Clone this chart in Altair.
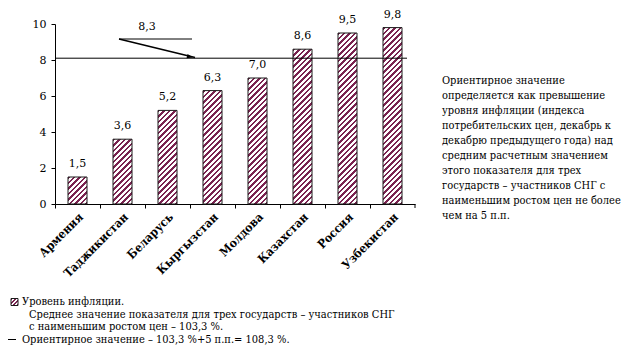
import altair as alt
import pandas as pd

countries = ["Армения", "Таджикистан", "Беларусь", "Кыргызстан", "Молдова", "Казахстан", "Россия", "Узбекистан"]
inflation = [1.5, 3.6, 5.2, 6.3, 7.0, 8.6, 9.5, 9.8]
labels = ["1,5", "3,6", "5,2", "6,3", "7,0", "8,6", "9,5", "9,8"]
threshold_line = [8.1]
threshold_label = "8,3"
y_ticks = [0, 2, 4, 6, 8, 10]

note_lines = [
    "Ориентирное значение",
    "определяется как превышение",
    "уровня инфляции (индекса",
    "потребительских цен, декабрь к",
    "декабрю предыдущего года) над",
    "средним расчетным значением",
    "этого показателя для трех",
    "государств – участников СНГ с",
    "наименьшим ростом цен не более",
    "чем на 5 п.п.",
]
legend_1 = "Уровень инфляции."
legend_2 = "Среднее значение показателя для трех государств – участников СНГ"
legend_3 = "с наименьшим ростом цен – 103,3 %."
legend_4 = "Ориентирное значение – 103,3 %+5 п.п.= 108,3 %."

W, H = 360, 180
BAR_W = 19
YMAX = 10
DARK = "#7a2350"
LIGHT = "#ffffff"
FONT = "DejaVu Serif Condensed, DejaVu Serif"
FONT_AX = "DejaVu Serif"


def stripes(w, h, period=5.5, dark_frac=0.45):
    L = w + h
    k = L / (w * w + h * h)
    stops = []
    i = 0
    while i * period / L < 1:
        t0 = min(i * period / L, 1)
        t1 = min((i * period + dark_frac * period) / L, 1)
        t2 = min((i + 1) * period / L, 1)
        stops += [
            {"offset": t0, "color": DARK},
            {"offset": t1, "color": DARK},
            {"offset": t1, "color": LIGHT},
            {"offset": t2, "color": LIGHT},
        ]
        i += 1
    return {"gradient": "linear", "x1": 0, "y1": 0, "x2": w * k, "y2": h * k, "stops": stops}


df = pd.DataFrame({"country": countries, "value": inflation, "label": labels})

y_scale = alt.Scale(domain=[0, YMAX], nice=False)
y_axis = alt.Axis(
    values=y_ticks,
    labelFont=FONT_AX,
    labelFontSize=11,
    labelColor="black",
    labelPadding=5,
    labelOverlap=False,
    labelFlush=False,
    tickSize=4,
    tickColor="black",
    domainColor="black",
    grid=False,
)
x_enc = alt.X(
    "country:N",
    sort=countries,
    title=None,
    scale=alt.Scale(paddingInner=0, paddingOuter=0),
    axis=alt.Axis(
        bandPosition=0,
        labelAngle=-45,
        labelAlign="right",
        labelBaseline="top",
        labelFont=FONT,
        labelFontSize=12,
        labelFontWeight="bold",
        labelColor="black",
        labelPadding=3,
        labelOverlap=False,
        tickSize=4,
        tickColor="black",
        domainColor="black",
        grid=False,
    ),
)
y_enc = alt.Y("value:Q", title=None, scale=y_scale, axis=y_axis)

layers = []
for c, v in zip(countries, inflation):
    layers.append(
        alt.Chart(df)
        .transform_filter(alt.datum.country == c)
        .mark_bar(width=BAR_W, fill=stripes(BAR_W, v * H / YMAX), stroke="#1a1a1a", strokeWidth=1)
        .encode(x=x_enc, y=y_enc)
    )

bar_text = alt.Chart(df).mark_text(font=FONT_AX, fontSize=11, color="black", dy=-13, baseline="middle").encode(
    x=x_enc, y=y_enc, text="label:N"
)

rule = alt.Chart(pd.DataFrame({"value": threshold_line})).mark_rule(color="black", strokeWidth=1).encode(
    y=y_enc, x=alt.value(0), x2=alt.value(352)
)

one = pd.DataFrame({"a": [0]})
last_tick = alt.Chart(one).mark_rule(color="black").encode(
    x=alt.value(W), y=alt.value(H), y2=alt.value(H + 4)
)

arrow_line = alt.Chart(one).mark_rule(color="black", strokeWidth=1.6).encode(
    x=alt.value(64), y=alt.value(15), x2=alt.value(140), y2=alt.value(33.5)
)
flat_line = alt.Chart(one).mark_rule(color="black", strokeWidth=1).encode(
    x=alt.value(64), y=alt.value(15), x2=alt.value(137), y2=alt.value(15)
)
arrow_head = alt.Chart(one).mark_point(
    shape="M-1,-0.35L0,0L-1,0.35Z", filled=True, color="black", size=150, angle=13.7, opacity=1
).encode(x=alt.value(138), y=alt.value(33.5))
arrow_label = alt.Chart(one).mark_text(font=FONT_AX, fontSize=11, color="black").encode(
    x=alt.value(92), y=alt.value(3), text=alt.value(threshold_label)
)

note = alt.Chart(one).mark_text(
    font=FONT, fontSize=11, color="black", align="left", baseline="middle", lineHeight=15, text=note_lines
).encode(x=alt.value(387), y=alt.value(57))

swatch = alt.Chart(one).mark_rect(fill=stripes(7, 7, period=4), stroke="#1a1a1a", strokeWidth=1).encode(
    x=alt.value(-44), x2=alt.value(-37), y=alt.value(274.5), y2=alt.value(281.5)
)
leg_style = dict(font=FONT, fontSize=11, color="black", align="left", baseline="middle")
leg1 = alt.Chart(one).mark_text(**leg_style).encode(x=alt.value(-33), y=alt.value(278), text=alt.value(legend_1))
leg2 = alt.Chart(one).mark_text(**leg_style).encode(x=alt.value(-26), y=alt.value(290.5), text=alt.value(legend_2))
leg3 = alt.Chart(one).mark_text(**leg_style).encode(x=alt.value(-26), y=alt.value(303), text=alt.value(legend_3))
leg4dash = alt.Chart(one).mark_rule(color="black", strokeWidth=1).encode(
    x=alt.value(-48), x2=alt.value(-39), y=alt.value(315.5), y2=alt.value(315.5)
)
leg4 = alt.Chart(one).mark_text(**leg_style).encode(x=alt.value(-33), y=alt.value(315.5), text=alt.value(legend_4))

chart = (
    alt.layer(
        *layers, bar_text, rule, last_tick, arrow_line, flat_line, arrow_head, arrow_label,
        note, swatch, leg1, leg2, leg3, leg4dash, leg4
    )
    .properties(
        width=W,
        height=H,
        padding={"left": 47, "top": 16, "right": 215, "bottom": 146},
        autosize="none",
        background="white",
    )
    .configure_view(strokeWidth=0)
)

chart.save("out.html", embed_options={"renderer": "svg", "actions": False})
